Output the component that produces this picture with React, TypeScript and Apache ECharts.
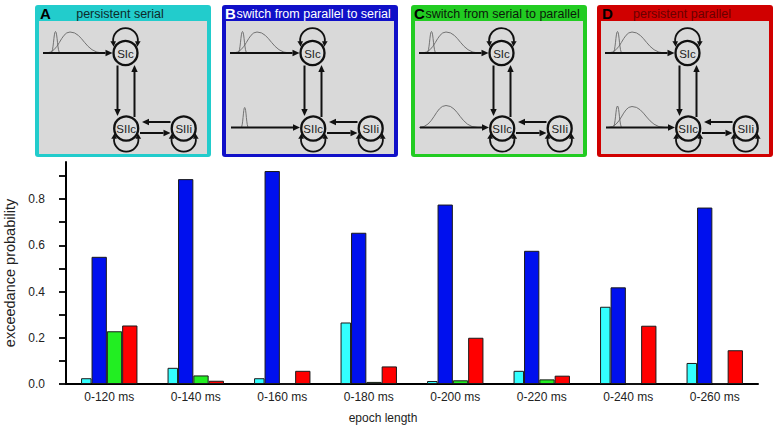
import React, { useEffect, useRef } from "react";
import * as echarts from "echarts";

const categories = ["0-120 ms", "0-140 ms", "0-160 ms", "0-180 ms", "0-200 ms", "0-220 ms", "0-240 ms", "0-260 ms"];
const persistentSerial = [0.025, 0.07, 0.025, 0.266, 0.013, 0.057, 0.334, 0.091];
const parallelToSerial = [0.55, 0.886, 0.921, 0.654, 0.776, 0.576, 0.418, 0.763];
const serialToParallel = [0.228, 0.037, 0, 0.009, 0.016, 0.02, 0, 0.002];
const persistentParallel = [0.253, 0.014, 0.057, 0.076, 0.2, 0.036, 0.252, 0.146];
const yTickValues = [0, 0.1, 0.2, 0.3, 0.4, 0.5, 0.6, 0.7, 0.8, 0.9];
const yLabelValues = [0, 0.2, 0.4, 0.6, 0.8];

const FONT = "'Liberation Sans', Arial, Helvetica, sans-serif";

type Panel = {
  letter: string;
  title: string;
  x: number;
  color: string;
  letterColor: string;
  textColor: string;
  centered: boolean;
  lower: "none" | "narrow" | "wide" | "both";
};

const panels: Panel[] = [
  { letter: "A", title: "persistent serial", x: 35, color: "#22cccc", letterColor: "#000", textColor: "#0d2b2b", centered: true, lower: "none" },
  { letter: "B", title: "switch from parallel to serial", x: 222, color: "#1010c8", letterColor: "#fff", textColor: "#fff", centered: false, lower: "narrow" },
  { letter: "C", title: "switch from serial to parallel", x: 411, color: "#22cc22", letterColor: "#000", textColor: "#0a1a0a", centered: false, lower: "wide" },
  { letter: "D", title: "persistent parallel", x: 597, color: "#d00000", letterColor: "#000", textColor: "#6a0000", centered: true, lower: "both" },
];

const PW = 176;
const BG = "#d9d9d9";
const INK = "#111";

function arrow(x1: number, y1: number, x2: number, y2: number, head = 7, hw = 3.2): any[] {
  const dx = x2 - x1, dy = y2 - y1;
  const len = Math.sqrt(dx * dx + dy * dy);
  const ux = dx / len, uy = dy / len;
  const bx = x2 - ux * head, by = y2 - uy * head;
  const px = -uy, py = ux;
  return [
    { type: "line", shape: { x1, y1, x2: bx, y2: by }, style: { stroke: INK, lineWidth: 2 } },
    { type: "polygon", shape: { points: [[x2, y2], [bx + px * hw, by + py * hw], [bx - px * hw, by - py * hw]] }, style: { fill: INK } },
  ];
}

function bump(a: number, p: number, b: number, h: number, base: number): any[] {
  const st = { stroke: "#666", lineWidth: 0.9, fill: "none" };
  return [
    { type: "bezierCurve", shape: { x1: a, y1: base, cpx1: a + (p - a) * 0.55, cpy1: base, cpx2: p - (p - a) * 0.4, cpy2: base - h, x2: p, y2: base - h }, style: st },
    { type: "bezierCurve", shape: { x1: p, y1: base - h, cpx1: p + (b - p) * 0.4, cpy1: base - h, cpx2: b - (b - p) * 0.55, cpy2: base, x2: b, y2: base }, style: st },
  ];
}

function loop(cx: number, cy: number, r: number, top: boolean): any[] {
  const a = (6 * Math.PI) / 180;
  const els: any[] = [];
  if (top) {
    els.push({ type: "arc", shape: { cx, cy, r, startAngle: Math.PI - a, endAngle: 2 * Math.PI + a, clockwise: true }, style: { stroke: INK, lineWidth: 1.8, fill: "none" } });
  } else {
    els.push({ type: "arc", shape: { cx, cy, r, startAngle: -a, endAngle: Math.PI + a, clockwise: true }, style: { stroke: INK, lineWidth: 1.8, fill: "none" } });
  }
  const ey = top ? cy + r * Math.sin(a) : cy - r * Math.sin(a);
  const dir = top ? 1 : -1;
  for (const sx of [-1, 1]) {
    const ex = cx + sx * r * Math.cos(a);
    els.push({ type: "polygon", shape: { points: [[ex + sx * -0.5, ey + dir * 5], [ex - 2.8, ey - dir * 0.5], [ex + 2.8, ey - dir * 0.5]] }, style: { fill: INK } });
  }
  return els;
}

function node(cx: number, cy: number, label: string): any[] {
  return [
    { type: "circle", shape: { cx, cy, r: 12 }, style: { fill: "#dcdcdc", stroke: INK, lineWidth: 2.3 } },
    { type: "text", style: { text: label, x: cx, y: cy + 0.5, align: "center", verticalAlign: "middle", fontSize: 11.5, fontFamily: FONT, fill: "#222" } },
  ];
}

function panelGraphic(p: Panel): any {
  const ch: any[] = [];
  ch.push({ type: "rect", shape: { x: 0, y: 5, width: PW, height: 152, r: 3 }, style: { fill: p.color } });
  ch.push({ type: "rect", shape: { x: 4, y: 21, width: PW - 8, height: 133 }, style: { fill: BG } });
  ch.push({ type: "text", style: { text: p.letter, x: p.centered ? 5 : 3, y: 13.5, verticalAlign: "middle", fontSize: 15, fontWeight: "bold", fontFamily: FONT, fill: p.letterColor } });
  ch.push({
    type: "text",
    style: p.centered
      ? { text: p.title, x: 85, y: 13.5, align: "center", verticalAlign: "middle", fontSize: 12.5, fontFamily: FONT, fill: p.textColor }
      : { text: p.title, x: 14.5, y: 13.5, align: "left", verticalAlign: "middle", fontSize: 12.5, fontFamily: FONT, fill: p.textColor },
  });
  // top input distributions
  ch.push(...bump(16, 20.5, 25, 21.5, 53));
  ch.push(...bump(11, 35, 68, 21, 53));
  ch.push(...arrow(8, 53, 77.5, 53));
  // lower input
  if (p.lower !== "none") {
    const base = 127.5;
    if (p.lower === "narrow") ch.push(...bump(19, 22.7, 26.5, 20, base));
    if (p.lower === "wide") ch.push(...bump(8, 35, 67, 22, base));
    if (p.lower === "both") {
      ch.push(...bump(16, 20.5, 25, 21.5, base));
      ch.push(...bump(11, 35, 68, 21, base));
    }
    ch.push(...arrow(9, base, 78, base));
  }
  // vertical arrows
  ch.push(...arrow(82.5, 65.5, 82.5, 116));
  ch.push(...arrow(99.5, 117, 99.5, 65));
  // horizontal arrows between SIIc and SIIi
  ch.push(...arrow(135.5, 122, 107, 122));
  ch.push(...arrow(105, 133, 135.5, 133));
  // loops
  ch.push(...loop(90.5, 40.5, 12.4, true));
  ch.push(...loop(91.2, 139.5, 12.2, false));
  ch.push(...loop(148.7, 139.5, 12.2, false));
  // nodes
  ch.push(...node(90.5, 53, "SIc"));
  ch.push(...node(91.2, 128.5, "SIIc"));
  ch.push(...node(148.7, 128.5, "SIIi"));
  return { type: "group", x: p.x, y: 0, children: ch };
}

export default function App() {
  const ref = useRef<HTMLDivElement>(null);
  useEffect(() => {
    if (!ref.current) return;
    const chart = echarts.init(ref.current, null, { renderer: "svg" });
    const barBorder = { borderColor: "#1a1a1a", borderWidth: 1 };
    chart.setOption({
      animation: false,
      backgroundColor: "#fff",
      textStyle: { fontFamily: FONT },
      grid: { left: 66, right: 22, top: 162, bottom: 45, containLabel: false, outerBoundsMode: "none" },
      xAxis: {
        type: "category",
        data: categories,
        axisLine: { show: true, lineStyle: { color: "#000", width: 2 } },
        axisTick: { show: false },
        axisLabel: { fontSize: 12, color: "#222", margin: 7, fontFamily: FONT },
      },
      yAxis: {
        type: "value",
        min: 0,
        max: 0.96,
        name: "exceedance probability",
        nameLocation: "middle",
        nameGap: 45,
        nameTextStyle: { fontSize: 14.5, color: "#222", fontFamily: FONT },
        axisLine: { show: true, lineStyle: { color: "#000", width: 2 } },
        axisTick: { show: true, inside: false, length: 7, customValues: yTickValues, lineStyle: { color: "#000", width: 1.8 } },
        axisLabel: { customValues: yLabelValues, formatter: (v: number) => v.toFixed(1), fontSize: 12, color: "#222", margin: 21, fontFamily: FONT },
        splitLine: { show: false },
      },
      series: [
        { name: "persistent serial", type: "bar", data: persistentSerial, barWidth: 10.5, barGap: "0%", itemStyle: { color: "#33ffff", ...barBorder } },
        { name: "switch from parallel to serial", type: "bar", data: parallelToSerial, barWidth: 15.3, barGap: "0%", itemStyle: { color: "#0010ee", ...barBorder } },
        { name: "switch from serial to parallel", type: "bar", data: serialToParallel, barWidth: 15.3, barGap: "0%", itemStyle: { color: "#22ee22", ...barBorder } },
        { name: "persistent parallel", type: "bar", data: persistentParallel, barWidth: 15.3, barGap: "0%", itemStyle: { color: "#ff0000", ...barBorder } },
      ],
      graphic: [
        ...panels.map(panelGraphic),
        { type: "text", style: { text: "epoch length", x: 383, y: 418, align: "center", verticalAlign: "middle", fontSize: 12, fontFamily: FONT, fill: "#222" } },
      ],
    });
    return () => chart.dispose();
  }, []);
  return <div ref={ref} style={{ position: "absolute", left: 0, top: 0, width: 780, height: 429 }} />;
}
